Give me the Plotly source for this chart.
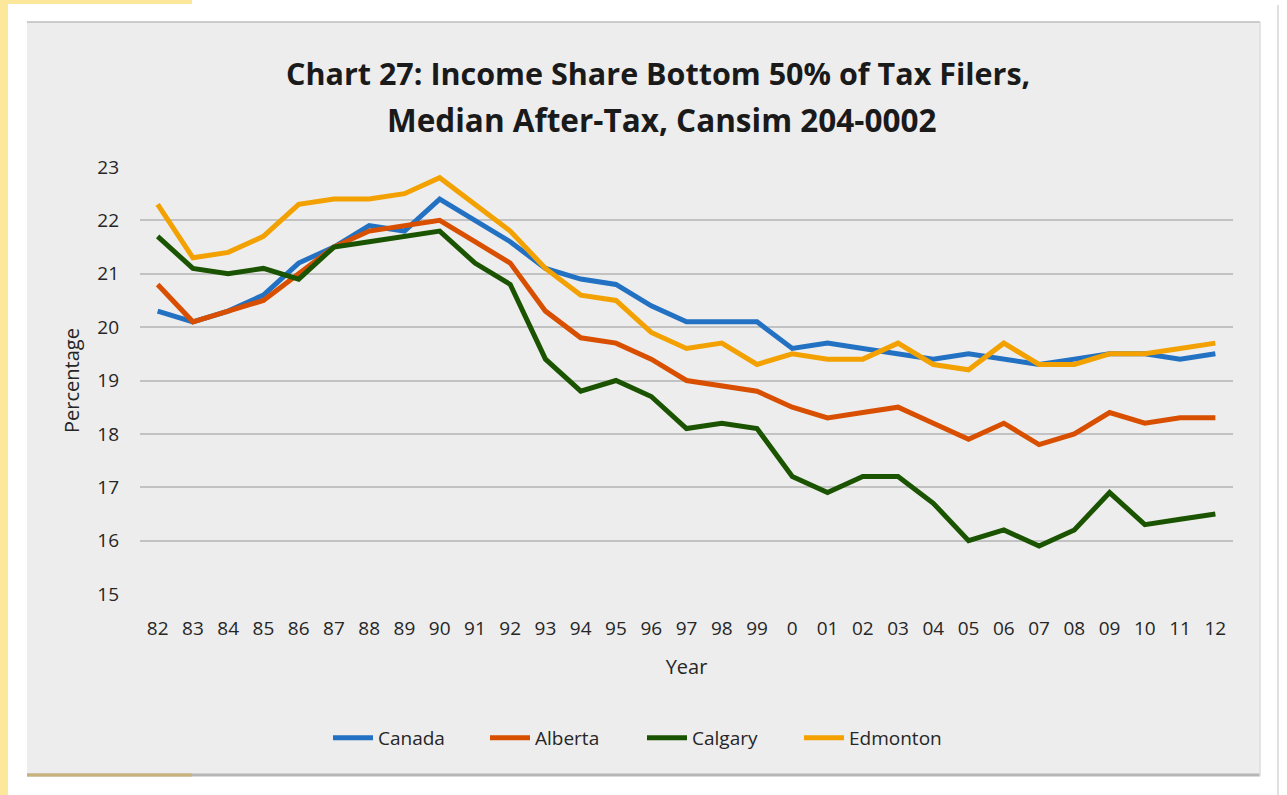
import plotly.graph_objects as go

years = ["82", "83", "84", "85", "86", "87", "88", "89", "90", "91", "92", "93", "94", "95", "96",
         "97", "98", "99", "0", "01", "02", "03", "04", "05", "06", "07", "08", "09", "10", "11", "12"]

canada = [20.3, 20.1, 20.3, 20.6, 21.2, 21.5, 21.9, 21.8, 22.4, 22.0, 21.6, 21.1, 20.9, 20.8, 20.4,
          20.1, 20.1, 20.1, 19.6, 19.7, 19.6, 19.5, 19.4, 19.5, 19.4, 19.3, 19.4, 19.5, 19.5, 19.4, 19.5]
alberta = [20.8, 20.1, 20.3, 20.5, 21.0, 21.5, 21.8, 21.9, 22.0, 21.6, 21.2, 20.3, 19.8, 19.7, 19.4,
           19.0, 18.9, 18.8, 18.5, 18.3, 18.4, 18.5, 18.2, 17.9, 18.2, 17.8, 18.0, 18.4, 18.2, 18.3, 18.3]
calgary = [21.7, 21.1, 21.0, 21.1, 20.9, 21.5, 21.6, 21.7, 21.8, 21.2, 20.8, 19.4, 18.8, 19.0, 18.7,
           18.1, 18.2, 18.1, 17.2, 16.9, 17.2, 17.2, 16.7, 16.0, 16.2, 15.9, 16.2, 16.9, 16.3, 16.4, 16.5]
edmonton = [22.3, 21.3, 21.4, 21.7, 22.3, 22.4, 22.4, 22.5, 22.8, 22.3, 21.8, 21.1, 20.6, 20.5, 19.9,
            19.6, 19.7, 19.3, 19.5, 19.4, 19.4, 19.7, 19.3, 19.2, 19.7, 19.3, 19.3, 19.5, 19.5, 19.6, 19.7]

series_names = ["Canada", "Alberta", "Calgary", "Edmonton"]
series_values = [canada, alberta, calgary, edmonton]
colors = ["#2271c3", "#d94f00", "#1b5400", "#f2a100"]

title_lines = ["Chart 27: Income Share Bottom 50% of Tax Filers,", "Median After-Tax, Cansim 204-0002"]

W, H = 1287, 795
L, R, T, B = 140, 1233, 167, 594
pw, ph = R - L, B - T


def px(x):
    return (x - L) / pw


def py(y):
    return (B - y) / ph


fig = go.Figure()
for name, vals, col in zip(series_names, series_values, colors):
    fig.add_trace(go.Scatter(x=years, y=vals, name=name, mode="lines",
                             line=dict(color=col, width=5)))

font_fam = "'Open Sans', Lato, sans-serif"
txt_col = "#262626"
shapes = [
    dict(type="rect", xref="paper", yref="paper", x0=px(0), x1=px(8), y0=py(795), y1=py(0),
         fillcolor="#fde79a", line=dict(width=0), layer="below"),
    dict(type="rect", xref="paper", yref="paper", x0=px(0), x1=px(192), y0=py(4), y1=py(0),
         fillcolor="#fde79a", line=dict(width=0), layer="below"),
    dict(type="line", xref="paper", yref="paper", x0=px(1278), x1=px(1278), y0=py(795), y1=py(5),
         line=dict(color="#e0e0e0", width=2), layer="below"),
    dict(type="rect", xref="paper", yref="paper", x0=px(27), x1=px(1260), y0=py(776), y1=py(22),
         fillcolor="#ededed", line=dict(width=0), layer="below"),
    dict(type="line", xref="paper", yref="paper", x0=px(27), x1=px(1260), y0=py(22), y1=py(22),
         line=dict(color="#bdbdbd", width=1.5), layer="below"),
    dict(type="line", xref="paper", yref="paper", x0=px(27), x1=px(1260), y0=py(775), y1=py(775),
         line=dict(color="#b5b5b5", width=3), layer="below"),
    dict(type="line", xref="paper", yref="paper", x0=px(27), x1=px(192), y0=py(775), y1=py(775),
         line=dict(color="#c9b27a", width=3), layer="below"),
    dict(type="line", xref="paper", yref="paper", x0=px(1260), x1=px(1260), y0=py(776), y1=py(22),
         line=dict(color="#dcdcdc", width=1.5), layer="below"),
]

annotations = [
    dict(text=title_lines[0], xref="paper", yref="paper", x=px(658), y=py(73),
         xanchor="center", yanchor="middle", showarrow=False,
         font=dict(family=font_fam, size=30.5, color="#1a1a1a", weight="bold")),
    dict(text=title_lines[1], xref="paper", yref="paper", x=px(661), y=py(119),
         xanchor="center", yanchor="middle", showarrow=False,
         font=dict(family=font_fam, size=31.5, color="#1a1a1a", weight="bold")),
]

fig.update_layout(
    width=W, height=H,
    margin=dict(l=L, r=W - R, t=T, b=H - B),
    paper_bgcolor="white",
    plot_bgcolor="rgba(0,0,0,0)",
    shapes=shapes,
    annotations=annotations,
    font=dict(family=font_fam, size=19, color=txt_col),
    xaxis=dict(type="category", range=[-0.5, 30.5], showgrid=False, zeroline=False,
               showline=False, ticks="", ticklabelstandoff=21,
               tickfont=dict(size=19, color=txt_col),
               title=dict(text="Year", font=dict(size=20, color=txt_col), standoff=19)),
    yaxis=dict(range=[15, 23], dtick=1, showgrid=True, gridcolor="#c2c2c2", gridwidth=1.5,
               zeroline=False, showline=False, ticks="", ticklabelstandoff=20,
               tickfont=dict(size=19, color=txt_col),
               title=dict(text="Percentage", font=dict(size=20, color=txt_col), standoff=12)),
    legend=dict(orientation="h", x=px(642), xanchor="center", y=py(738), yanchor="middle",
                font=dict(size=19, color=txt_col), bgcolor="rgba(0,0,0,0)", itemwidth=40,
                entrywidth=102, traceorder="normal"),
)

fig.write_html("out.html", config={"displayModeBar": False},
               post_script="document.body.style.margin='0px';")
